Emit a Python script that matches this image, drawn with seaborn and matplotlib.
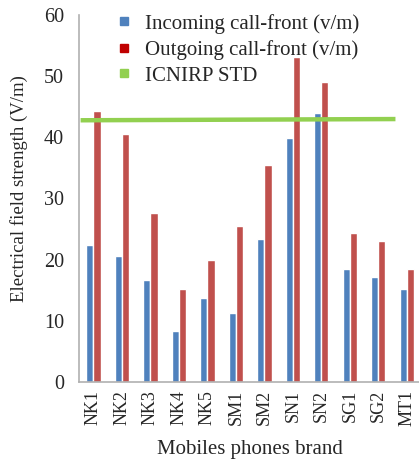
import matplotlib
matplotlib.use("Agg")
import matplotlib.pyplot as plt
import seaborn as sns
import pandas as pd
from matplotlib.lines import Line2D

brands = ["NK1", "NK2", "NK3", "NK4", "NK5", "SM1", "SM2", "SN1", "SN2", "SG1", "SG2", "MT1"]
incoming = [22.4, 20.6, 16.6, 8.3, 13.7, 11.3, 23.4, 39.9, 44.0, 18.4, 17.2, 15.1]
outgoing = [44.3, 40.5, 27.7, 15.1, 20.0, 25.5, 35.5, 53.2, 49.1, 24.3, 23.0, 18.4]
icnirp_std = [42.8, 43.0]

sns.set_style("white")
plt.rcParams['font.family'] = ['Liberation Serif', 'DejaVu Serif']

df = pd.DataFrame({
    'brand': brands * 2,
    'value': incoming + outgoing,
    'series': ['Incoming call-front (v/m)'] * len(brands) + ['Outgoing call-front (v/m)'] * len(brands),
})

fig = plt.figure(figsize=(4.19, 4.61), dpi=100)
ax = fig.add_axes([0.189, 0.172, 0.816, 0.795])

sns.barplot(data=df, x='brand', y='value', hue='series',
            palette=['#4F81BD', '#C0504D'], width=0.5, gap=0,
            saturation=1, ax=ax, legend=False)

# standard limit line
ax.plot([-0.45, 10.6], icnirp_std, color='#92D050', lw=3.2, solid_capstyle='butt')

ax.set_xlim(-0.5, 11.5)
ax.set_ylim(0, 60)
ax.set_yticks(range(0, 61, 10))
ax.set_xticks([i + 0.5 for i in range(-1, 12)], minor=True)
ax.tick_params(axis='x', which='major', length=0, labelsize=13, rotation=90, pad=6)
ax.tick_params(axis='x', which='minor', length=5, color='#B0B0B0', width=1, direction='out')
ax.tick_params(axis='y', length=6, color='#B0B0B0', width=1, direction='out', labelsize=14.5, pad=5)

for s in ['top', 'right']:
    ax.spines[s].set_visible(False)
for s in ['left', 'bottom']:
    ax.spines[s].set_color('#B0B0B0')
    ax.spines[s].set_linewidth(1.2)

ax.set_xlabel("Mobiles phones brand", fontsize=15, labelpad=10)
ax.set_ylabel("Electrical field strength (V/m)", fontsize=13.5)
ax.yaxis.set_label_coords(-0.15, 0.527)

handles = [
    Line2D([], [], marker='s', ls='', color='#4F81BD', markersize=6),
    Line2D([], [], marker='s', ls='', color='#C00000', markersize=6),
    Line2D([], [], marker='s', ls='', color='#92D050', markersize=6),
]
labels = ['Incoming call-front (v/m)', 'Outgoing call-front (v/m)', 'ICNIRP STD']
ax.legend(handles, labels, loc='upper left', bbox_to_anchor=(0.045, 1.055),
          frameon=False, fontsize=15, handletextpad=0.5, labelspacing=0.3,
          handlelength=1.0)

fig.savefig("out.png", dpi=100)
